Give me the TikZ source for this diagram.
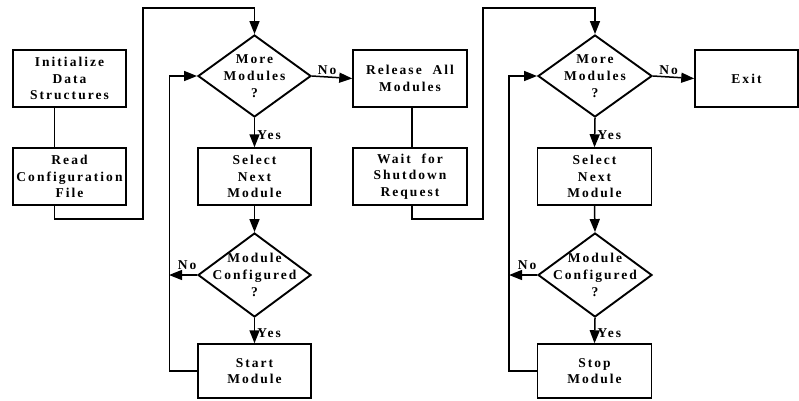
\documentclass[tikz,border=0pt]{standalone}
\usepackage{fontspec}
\setmainfont{Liberation Serif}[LetterSpace=15]
\usepackage{tikz}
\usetikzlibrary{calc, arrows.meta, shapes.geometric}

\begin{document}
\begin{tikzpicture}[
      x=1pt, y=-1pt,
      font=\fontsize{13.5}{16.7}\selectfont\bfseries,
      box/.style={draw, line width=1.5pt, minimum width=113pt, minimum height=57pt,
        inner sep=0pt, align=center},
      decision/.style={draw, diamond, line width=1.9pt, minimum width=113pt,
        minimum height=82pt, inner sep=0pt},
      dtext/.style={align=center, inner sep=0pt},
      arr/.style={line width=1.5pt, -{Triangle[length=13pt,width=10pt]}},
      link/.style={line width=1.5pt},
      lbl/.style={inner sep=2pt}
    ]
      \useasboundingbox (0,0) rectangle (799,400);

      % first column
      \node[box] (init) at (69.5,78.5) {Initialize\\Data\\Structures};
      \node[box] (read) at (69.5,176.5) {Read\\Configuration\\File};

      % start loop
      \node[decision, label={[dtext]center:More\\Modules\\?}] (more1) at (254.5,76) {};
      \node[box] (select1) at (254.5,176.5) {Select\\Next\\Module};
      \node[decision, minimum height=84pt,
        label={[dtext]center:Module\\Configured\\?}] (conf1) at (254.5,275) {};
      \node[box, minimum height=54pt] (start) at (254.5,371) {Start\\Module};

      % shutdown
      \node[box, minimum width=114pt] (release) at (410,78.5) {Release~~All\\Modules};
      \node[box, minimum width=114pt] (wait) at (410,176.5) {Wait~~for\\Shutdown\\Request};

      % stop loop
      \node[decision, minimum width=114pt,
        label={[dtext]center:More\\Modules\\?}] (more2) at (595,76) {};
      \node[box, minimum width=114pt] (select2) at (594.5,176.5) {Select\\Next\\Module};
      \node[decision, minimum width=114pt, minimum height=84pt,
        label={[dtext]center:Module\\Configured\\?}] (conf2) at (595,275) {};
      \node[box, minimum width=114pt, minimum height=54pt] (stop) at (594.5,371) {Stop\\Module};
      \node[box, minimum width=103pt] (exit) at (746.5,78.5) {Exit};

      % connectors
      \draw[link] ([xshift=-15pt]init.south) -- ([xshift=-15pt]read.north);
      \draw[arr] ([xshift=-15pt]read.south) -- ++(0,13) -| (143,8) -| (more1.north);
      \draw[arr] (more1.east) -- node[lbl, above, xshift=-5pt] {No} (release.west);
      \draw[arr] (more1.south) -- node[lbl, right, yshift=-3pt] {Yes} (select1.north);
      \draw[arr] (select1.south) -- (conf1.north);
      \draw[arr] (conf1.south) -- node[lbl, right, yshift=-3pt] {Yes} (start.north);
      \draw[arr] (conf1.west) -- node[lbl, above, xshift=4pt, yshift=3pt] {No} ++(-28,0);
      \draw[arr] (start.west) -- ++(-28,0) |- (more1.west);

      \draw[link] ([xshift=2pt]release.south) -- ([xshift=2pt]wait.north);
      \draw[arr] ([xshift=2pt]wait.south) -- ++(0,13) -| (483,8) -| (more2.north);
      \draw[arr] (more2.east) -- node[lbl, above, xshift=-5pt] {No} (exit.west);
      \draw[arr] (more2.south) -- node[lbl, right, yshift=-3pt] {Yes} (select2.north);
      \draw[arr] (select2.south) -- (conf2.north);
      \draw[arr] (conf2.south) -- node[lbl, right, yshift=-3pt] {Yes} (stop.north);
      \draw[arr] (conf2.west) -- node[lbl, above, xshift=4pt, yshift=3pt] {No} ++(-28,0);
      \draw[arr] (stop.west) -- ++(-28,0) |- (more2.west);
    \end{tikzpicture}
\end{document}
